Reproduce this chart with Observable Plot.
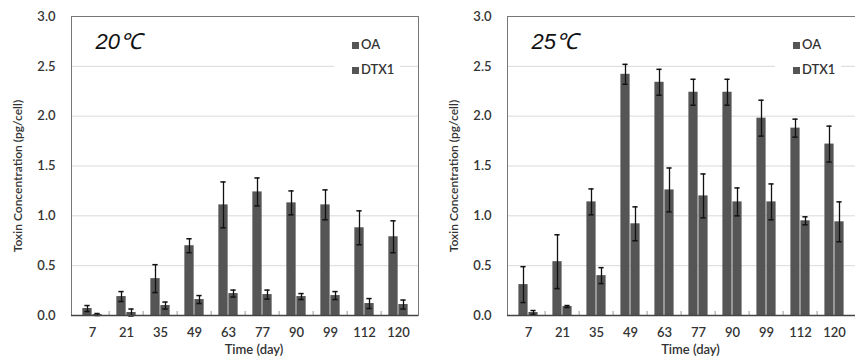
<!DOCTYPE html>
<html><head><meta charset="utf-8">
<script src="https://cdn.jsdelivr.net/npm/d3@7"></script>
<script src="https://cdn.jsdelivr.net/npm/@observablehq/plot@0.6"></script>
<style>
body{margin:0;background:#fff}
#c{position:relative;width:855px;height:360px;overflow:hidden}
.p{position:absolute;top:0}
.lg{position:absolute;background:#fff;font-family:Lato,sans-serif;font-size:13px;color:#333;font-weight:600;line-height:25px;padding:4px 6px 2px 18px}
.lg span{display:inline-block;width:7px;height:7px;background:#555;margin-right:2px;vertical-align:0px}
.yl{position:absolute;white-space:nowrap;font-family:Lato,sans-serif;font-size:12px;font-weight:600;color:#333;transform:translate(-50%,-50%) rotate(-90deg)}
</style>
</head><body><div id="c"></div>
<script>
const days = ["7","21","35","49","63","77","90","99","112","120"];
const seriesNames = ["OA","DTX1"];
const panelTitles = ["20℃","25℃"];
const yTicks = [0,0.5,1.0,1.5,2.0,2.5,3.0];
const yTitle = "Toxin Concentration (pg/cell)";
const xTitle = "Time (day)";

const oa20     = [0.07,0.19,0.37,0.70,1.11,1.24,1.13,1.11,0.88,0.79];
const oa20Err  = [0.03,0.05,0.14,0.07,0.23,0.14,0.12,0.15,0.17,0.16];
const dtx20    = [0.01,0.03,0.10,0.16,0.22,0.21,0.19,0.20,0.12,0.11];
const dtx20Err = [0.01,0.035,0.035,0.04,0.035,0.045,0.03,0.04,0.05,0.045];

const oa25     = [0.31,0.54,1.14,2.42,2.34,2.24,2.24,1.98,1.88,1.72];
const oa25Err  = [0.18,0.27,0.13,0.10,0.13,0.13,0.13,0.18,0.09,0.18];
const dtx25    = [0.03,0.09,0.40,0.92,1.26,1.20,1.14,1.14,0.95,0.94];
const dtx25Err = [0.02,0.01,0.08,0.17,0.22,0.22,0.14,0.18,0.04,0.20];

function panel(title, oa, oaErr, dtx, dtxErr, left, width, mLeft, mRight, legendX) {
  const rows = days.flatMap((d,i)=>[
    {day:d, series:seriesNames[0], v:oa[i], e:oaErr[i]},
    {day:d, series:seriesNames[1], v:dtx[i], e:dtxErr[i]}
  ]);
  const step = (width - mLeft - mRight) / days.length;
  const bw = 10;
  const oaRows = rows.filter(r=>r.series===seriesNames[0]);
  const dtRows = rows.filter(r=>r.series===seriesNames[1]);
  const errMarks = (data, dx) => [
    Plot.ruleX(data, {x:"day", y1:r=>r.v-r.e, y2:r=>r.v+r.e, dx, stroke:"#111", strokeWidth:1.3}),
    Plot.tickY(data, {x:"day", y:r=>r.v+r.e, dx, insetLeft:step/2-3, insetRight:step/2-3, stroke:"#111", strokeWidth:1.5}),
    Plot.tickY(data, {x:"day", y:r=>r.v-r.e, dx, insetLeft:step/2-3, insetRight:step/2-3, stroke:"#111", strokeWidth:1.5})
  ];
  const chart = Plot.plot({
    width, height:360,
    marginLeft:mLeft, marginRight:mRight, marginTop:16, marginBottom:45,
    style:{fontFamily:"Lato, sans-serif", fontSize:"13px", color:"#333", fontWeight:"600", background:"transparent", overflow:"visible"},
    x:{type:"band", domain:days, padding:0, label:null},
    y:{domain:[0,3], label:null},
    marks:[
      Plot.ruleY(yTicks.filter(t=>t>0 && t<3), {stroke:"#d9d9d9"}),
      Plot.barY(oaRows, {x:"day", y:"v", fill:"#555", insetLeft:step/2-bw, insetRight:step/2}),
      Plot.barY(dtRows, {x:"day", y:"v", fill:"#555", insetLeft:step/2, insetRight:step/2-bw}),
      ...errMarks(oaRows, -bw/2),
      ...errMarks(dtRows, bw/2),
      Plot.ruleX(days.slice(1), {x:d=>d, y1:0, y2:0.04, dx:-step/2, stroke:"#999"}),
      Plot.frame({stroke:"#777"}),
      Plot.ruleY([0], {stroke:"#444", strokeWidth:1.3}),
      Plot.axisX({tickSize:0, tickPadding:12, fontSize:13}),
      Plot.axisY({ticks:yTicks, tickSize:0, tickPadding:16, tickFormat:d3.format(".1f"), fontSize:13}),
      Plot.text([title], {frameAnchor:"top-left", text:d=>d, dx:24, dy:25, lineAnchor:"middle", textAnchor:"start", fontSize:22, fontStyle:"italic", fontWeight:"normal", fontFamily:"Liberation Sans, Arial, sans-serif", fill:"#111"}),
      Plot.text([xTitle], {frameAnchor:"bottom", text:d=>d, dx:9, dy:38, fontSize:13})
    ]
  });
  const wrap = document.createElement("div");
  wrap.className = "p";
  wrap.style.left = left + "px";
  wrap.appendChild(chart);
  const yl = document.createElement("div");
  yl.className = "yl";
  yl.style.left = (mLeft - 54) + "px";
  yl.style.top = "176px";
  yl.textContent = yTitle;
  wrap.appendChild(yl);
  const lg = document.createElement("div");
  lg.className = "lg";
  lg.style.left = (legendX - left - 18) + "px";
  lg.style.top = "28px";
  lg.innerHTML = seriesNames.map(s=>`<div><span></span>${s}</div>`).join("");
  wrap.appendChild(lg);
  document.getElementById("c").appendChild(wrap);
}

panel(panelTitles[0], oa20, oa20Err, dtx20, dtx20Err, 0, 428, 71, 10, 352);
panel(panelTitles[1], oa25, oa25Err, dtx25, dtx25Err, 427, 428, 80, 0, 793);
</script>
</body></html>
